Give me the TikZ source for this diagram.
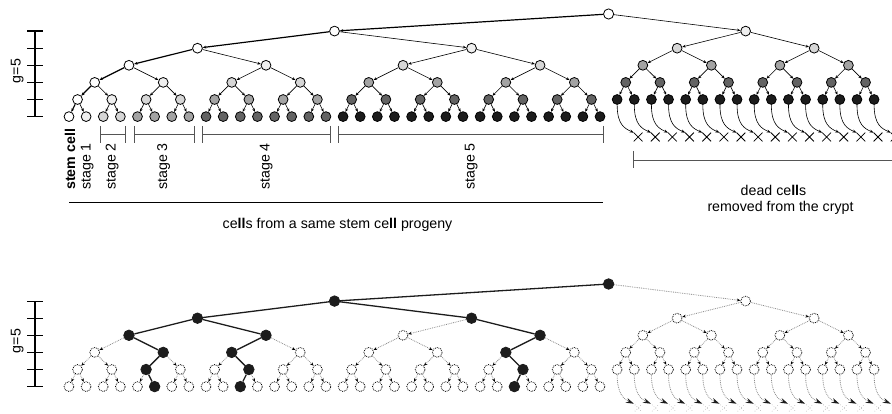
\documentclass[tikz,border=0pt]{standalone}
\usepackage{fontspec}
\setmainfont{Liberation Sans}
\usetikzlibrary{arrows.meta,shapes.misc}
\definecolor{cd0}{HTML}{FFFFFF}
\definecolor{cd1}{HTML}{EFEFEF}
\definecolor{cd2}{HTML}{D6D6D6}
\definecolor{cd3}{HTML}{A3A3A3}
\definecolor{cd4}{HTML}{636363}
\definecolor{cd5}{HTML}{1C1C1C}
\definecolor{brk}{HTML}{555555}
\definecolor{dotg}{HTML}{8A8A8A}
\definecolor{deadg}{HTML}{B0B0B0}
\tikzset{
  cell/.style={circle,draw=black,line width=0.8pt,minimum size=9.8pt,inner sep=0pt},
  bcell/.style={circle,fill=cd5,draw=cd5,line width=0.8pt,minimum size=10.5pt,inner sep=0pt},
  dcell/.style={circle,draw=black,densely dotted,line width=0.8pt,fill=white,minimum size=9.8pt,inner sep=0pt},
  tip/.style={-{Stealth[length=3.4pt,width=2.8pt]}},
  stemedge/.style={tip,line width=1.2pt},
  divedge/.style={tip,line width=0.6pt},
  linedge/.style={line width=1.3pt,cd5},
  dotedge/.style={dotg,densely dotted,line width=0.8pt,-{Stealth[length=3.6pt,width=2.9pt,color=black]}},
  dead/.style={cross out,draw=black,line width=0.8pt,minimum size=8pt,inner sep=0pt},
  ddead/.style={cross out,draw=deadg,dotted,line width=0.6pt,minimum size=6pt,inner sep=0pt},
  removal/.style={line width=0.6pt,-{Stealth[length=4pt,width=3pt]}},
  dremoval/.style={dotg,densely dotted,line width=0.8pt,-{Stealth[length=8pt,width=5pt,color=cd5]}},
  lbl/.style={font=\fontsize{14.2}{17}\selectfont,inner sep=0pt},
  rlbl/.style={lbl,rotate=90,anchor=base west},
  scaleline/.style={line width=1.2pt},
  bracket/.style={brk,line width=0.8pt},
}
\foreach \a in {1-1,2-1,2-2,3-1,3-2,3-4,4-2,4-3,4-7,5-3,5-6,5-14,6-6,6-11,6-27}{\expandafter\gdef\csname blk\a\endcsname{}}
\begin{document}
\begin{tikzpicture}[x=1pt,y=-1pt]
\useasboundingbox (0,0) rectangle (892,414);

% ---------- scales ----------
\foreach \off in {0,270}{
  \draw[scaleline] (35,{31.1+\off}) -- (35,{116.6+\off});
  \foreach \L in {1,...,6}{
    \draw[scaleline] (27,{14+17.1*\L+\off}) -- (43,{14+17.1*\L+\off});
  }
  \node[lbl,rotate=90,anchor=base] (g\off) at (20.5,{71+\off}) {g=5};
}

% ---------- top tree ----------
\node[cell,fill=cd0,minimum size=10.2pt] (t0) at ({69+17.13*31.5},14) {};
\foreach \L in {1,...,6}{
  \pgfmathtruncatemacro\n{2^(\L-1)}
  \pgfmathtruncatemacro\w{2^(6-\L)}
  \foreach \j in {1,...,\n}{
    \pgfmathsetmacro\xx{69+17.13*((\j-1)*\w+(\w-1)/2)}
    \pgfmathsetmacro\yy{14+17.1*\L}
    \pgfmathtruncatemacro\d{(\j==1)?0:(floor(ln(max(\j-1,1))/ln(2)+0.01)+1)}
    \node[cell,fill=cd\d] (t\L-\j) at (\xx,\yy) {};
  }
}
\foreach \L in {1,...,5}{
  \pgfmathtruncatemacro\n{2^(\L-1)}
  \pgfmathtruncatemacro\w{2^(5-\L)}
  \foreach \j in {1,...,\n}{
    \pgfmathsetmacro\xx{69+17.13*(32+(\j-1)*\w+(\w-1)/2)}
    \pgfmathsetmacro\yy{14+17.1*\L}
    \node[cell,fill=cd\L] (r\L-\j) at (\xx,\yy) {};
  }
}
\draw[stemedge] (t0) -- (t1-1);
\draw[divedge] (t0) -- (r1-1);
\foreach \L in {2,...,6}{
  \pgfmathtruncatemacro\n{2^(\L-1)}
  \pgfmathtruncatemacro\P{\L-1}
  \foreach \j in {1,...,\n}{
    \pgfmathtruncatemacro\p{ceil(\j/2)}
    \ifnum\j=1 \draw[stemedge] (t\P-\p) -- (t\L-\j);
    \else \draw[divedge] (t\P-\p) -- (t\L-\j); \fi
  }
}
\foreach \L in {2,...,5}{
  \pgfmathtruncatemacro\n{2^(\L-1)}
  \pgfmathtruncatemacro\P{\L-1}
  \foreach \j in {1,...,\n}{
    \pgfmathtruncatemacro\p{ceil(\j/2)}
    \draw[divedge] (r\P-\p) -- (r\L-\j);
  }
}
\foreach \j in {1,...,16}{
  \pgfmathsetmacro\xx{69+17.13*(31+\j)+21}
  \node[dead] (x\j) at (\xx,137) {};
  \draw[removal] (r5-\j.south) .. controls +(0,20) and +(-9,-4) .. (x\j.north west);
}

% ---------- brackets and labels ----------
\foreach \a/\b in {100/125,134/194,202/330,338/603}{
  \draw[bracket] (\a,126) -- (\a,143) (\a,134) -- (\b,134) (\b,126) -- (\b,143);
}
\draw[bracket] (633,151) -- (633,168) (633,160) -- (900,160);
\draw[line width=1pt] (69,203) -- (603,203);

\node[rlbl,font=\fontsize{14.2}{17}\selectfont\bfseries] (lstem) at (75,190) {stem cell};
\node[rlbl] (ls1) at (90.5,190) {stage 1};
\node[rlbl] (ls2) at (115.5,190) {stage 2};
\node[rlbl] (ls3) at (167,190) {stage 3};
\node[rlbl] (ls4) at (269.5,190) {stage 4};
\node[rlbl] (ls5) at (474.5,190) {stage 5};
\node[lbl,anchor=base] (lprog) at (337.5,228.5) {ce\textbf{ll}s from a same stem ce\textbf{ll} progeny};
\node[lbl,anchor=base] (ldead) at (773.5,195.5) {dead ce\textbf{ll}s};
\node[lbl,anchor=base] (lrem) at (780.5,212) {removed from the crypt};

% ---------- bottom tree ----------
\node[bcell] (b0) at ({69+17.13*31.5},284) {};
\foreach \L in {1,...,6}{
  \pgfmathtruncatemacro\n{2^(\L-1)}
  \pgfmathtruncatemacro\w{2^(6-\L)}
  \foreach \j in {1,...,\n}{
    \pgfmathsetmacro\xx{69+17.13*((\j-1)*\w+(\w-1)/2)}
    \pgfmathsetmacro\yy{284+17.1*\L}
    \ifcsname blk\L-\j\endcsname
      \node[bcell] (b\L-\j) at (\xx,\yy) {};
    \else
      \node[dcell] (b\L-\j) at (\xx,\yy) {};
    \fi
  }
}
\foreach \L in {1,...,5}{
  \pgfmathtruncatemacro\n{2^(\L-1)}
  \pgfmathtruncatemacro\w{2^(5-\L)}
  \foreach \j in {1,...,\n}{
    \pgfmathsetmacro\xx{69+17.13*(32+(\j-1)*\w+(\w-1)/2)}
    \pgfmathsetmacro\yy{284+17.1*\L}
    \node[dcell] (q\L-\j) at (\xx,\yy) {};
  }
}
\draw[linedge] (b0) -- (b1-1);
\draw[dotedge] (b0) -- (q1-1);
\foreach \L in {2,...,6}{
  \pgfmathtruncatemacro\n{2^(\L-1)}
  \pgfmathtruncatemacro\P{\L-1}
  \foreach \j in {1,...,\n}{
    \pgfmathtruncatemacro\p{ceil(\j/2)}
    \ifcsname blk\L-\j\endcsname
      \draw[linedge] (b\P-\p) -- (b\L-\j);
    \else
      \draw[dotedge] (b\P-\p) -- (b\L-\j);
    \fi
  }
}
\foreach \L in {2,...,5}{
  \pgfmathtruncatemacro\n{2^(\L-1)}
  \pgfmathtruncatemacro\P{\L-1}
  \foreach \j in {1,...,\n}{
    \pgfmathtruncatemacro\p{ceil(\j/2)}
    \draw[dotedge] (q\P-\p) -- (q\L-\j);
  }
}
\foreach \j in {1,...,16}{
  \pgfmathsetmacro\xx{69+17.13*(31+\j)+21}
  \node[ddead] (y\j) at (\xx,408) {};
  \draw[dremoval] (q5-\j.south) .. controls +(0,20) and +(-9,-4) .. ([xshift=-1pt,yshift=1pt]y\j.north west);
}
\end{tikzpicture}
\end{document}
